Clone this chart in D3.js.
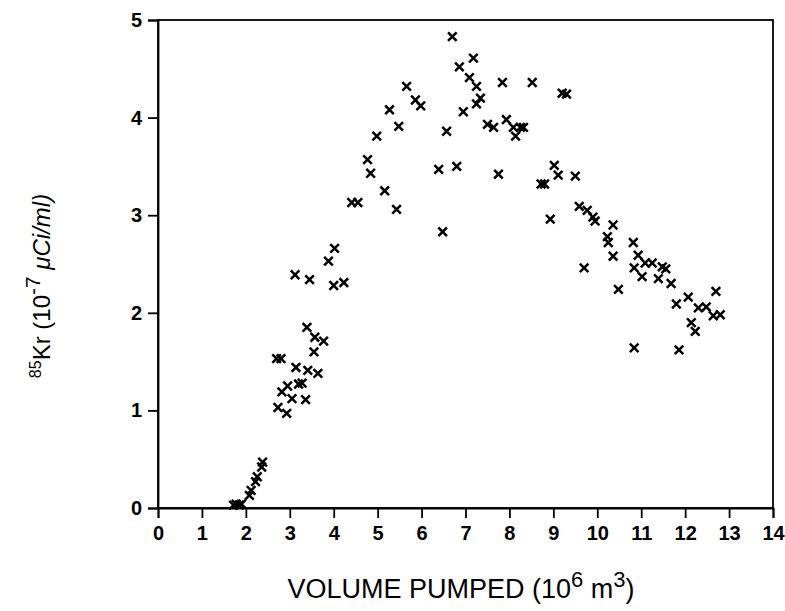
<!DOCTYPE html>
<html>
<head>
<meta charset="utf-8">
<script src="https://cdn.jsdelivr.net/npm/d3@7"></script>
<style>
  html, body { margin: 0; padding: 0; background: #fff; }
  svg { display: block; }
  text { font-family: "Liberation Sans", Arial, sans-serif; fill: #000; }
</style>
</head>
<body>
<svg id="chart" width="785" height="611"></svg>
<script>
// ---- Data ----
const volumePumped = [
  1.72, 1.78, 1.85, 1.90, 2.08, 2.12, 2.22, 2.26, 2.36, 2.38,
  2.70, 2.80, 2.73, 2.82, 2.93, 2.95, 3.05, 3.14, 3.12, 3.20,
  3.28, 3.36, 3.39, 3.41, 3.45, 3.55, 3.57, 3.64, 3.77, 3.88,
  4.00, 4.02, 4.23, 4.41, 4.55, 4.77, 4.84, 4.98, 5.16, 5.27,
  5.43, 5.48, 5.66, 5.86, 5.98, 6.39, 6.48, 6.57, 6.70, 6.80,
  6.86, 6.95, 7.09, 7.18, 7.25, 7.25, 7.34, 7.50, 7.64, 7.75,
  7.84, 7.93, 8.09, 8.14, 8.25, 8.32, 8.52, 8.72, 8.80, 8.93,
  9.02, 9.11, 9.20, 9.30, 9.50, 9.59, 9.70, 9.77, 9.90, 9.95,
  10.23, 10.25, 10.36, 10.36, 10.48, 10.82, 10.84, 10.84, 10.93, 11.02,
  11.09, 11.25, 11.39, 11.48, 11.56, 11.68, 11.80, 11.86, 12.07, 12.14,
  12.23, 12.30, 12.48, 12.64, 12.70, 12.80
];
const krConcentration = [
  0.03, 0.04, 0.03, 0.04, 0.13, 0.18, 0.27, 0.32, 0.42, 0.47,
  1.53, 1.53, 1.03, 1.19, 0.97, 1.25, 1.12, 1.44, 2.39, 1.27,
  1.28, 1.11, 1.85, 1.41, 2.34, 1.60, 1.75, 1.38, 1.71, 2.53,
  2.28, 2.66, 2.31, 3.13, 3.13, 3.57, 3.43, 3.81, 3.25, 4.08,
  3.06, 3.91, 4.32, 4.18, 4.12, 3.47, 2.83, 3.86, 4.83, 3.50,
  4.52, 4.06, 4.41, 4.61, 4.32, 4.14, 4.20, 3.93, 3.90, 3.42,
  4.36, 3.98, 3.90, 3.81, 3.90, 3.90, 4.36, 3.32, 3.32, 2.96,
  3.51, 3.41, 4.25, 4.24, 3.40, 3.09, 2.46, 3.05, 2.98, 2.94,
  2.78, 2.72, 2.90, 2.58, 2.24, 2.72, 2.46, 1.64, 2.59, 2.37,
  2.51, 2.51, 2.35, 2.47, 2.45, 2.30, 2.09, 1.62, 2.16, 1.90,
  1.81, 2.05, 2.06, 1.97, 2.22, 1.98
];
const xTicks = [0,1,2,3,4,5,6,7,8,9,10,11,12,13,14];
const yTicks = [0,1,2,3,4,5];

// ---- Layout ----
const svg = d3.select("#chart");
const mLeft = 158, mRight = 773, mTop = 20, mBottom = 508;

const x = d3.scaleLinear().domain([0, 14]).range([mLeft, mRight]);
const y = d3.scaleLinear().domain([0, 5]).range([mBottom, mTop]);

// frame
svg.append("rect")
  .attr("x", mLeft).attr("y", mTop)
  .attr("width", mRight - mLeft).attr("height", mBottom - mTop)
  .attr("fill", "none").attr("stroke", "#000").attr("stroke-width", 1.8);

// x axis
const xAxis = svg.append("g")
  .attr("transform", `translate(0,${mBottom})`)
  .call(d3.axisBottom(x).tickValues(xTicks).tickFormat(d3.format("d")).tickSize(10).tickPadding(8));
// y axis
const yAxis = svg.append("g")
  .attr("transform", `translate(${mLeft},0)`)
  .call(d3.axisLeft(y).tickValues(yTicks).tickFormat(d3.format("d")).tickSize(10).tickPadding(6));

[xAxis, yAxis].forEach(g => {
  g.select(".domain").attr("stroke", "#000").attr("stroke-width", 1.8);
  g.selectAll(".tick line").attr("stroke", "#000").attr("stroke-width", 1.8);
  g.selectAll(".tick text")
    .attr("font-family", "'Liberation Sans', Arial, sans-serif")
    .attr("font-size", 20).attr("font-weight", "bold").attr("fill", "#000");
});

// markers
const pts = volumePumped.map((v, i) => [v, krConcentration[i]]);
svg.append("g").selectAll("path")
  .data(pts)
  .join("path")
  .attr("transform", d => `translate(${x(d[0])},${y(d[1])})`)
  .attr("d", "M-4.3,-4.3L4.3,4.3M4.3,-4.3L-4.3,4.3")
  .attr("stroke", "#000").attr("stroke-width", 2.5).attr("fill", "none");

// x axis title
const xt = svg.append("text")
  .attr("x", 461).attr("y", 598)
  .attr("text-anchor", "middle").attr("font-size", 27);
xt.append("tspan").text("VOLUME PUMPED (10");
xt.append("tspan").attr("dy", -11).attr("font-size", 22).text("6");
xt.append("tspan").attr("dy", 11).text(" m");
xt.append("tspan").attr("dy", -11).attr("font-size", 22).text("3");
xt.append("tspan").attr("dy", 11).text(")");

// y axis title
const yt = svg.append("text")
  .attr("transform", `translate(50,286) rotate(-90)`)
  .attr("text-anchor", "middle").attr("font-size", 24);
yt.append("tspan").attr("dy", -9).attr("font-size", 16).text("85");
yt.append("tspan").attr("dy", 9).text("Kr (10");
yt.append("tspan").attr("dy", -10).attr("font-size", 21).text("-7");
yt.append("tspan").attr("dy", 10).text(" ");
yt.append("tspan").attr("font-style", "italic").text("\u03BCCi/ml)");
</script>
</body>
</html>
